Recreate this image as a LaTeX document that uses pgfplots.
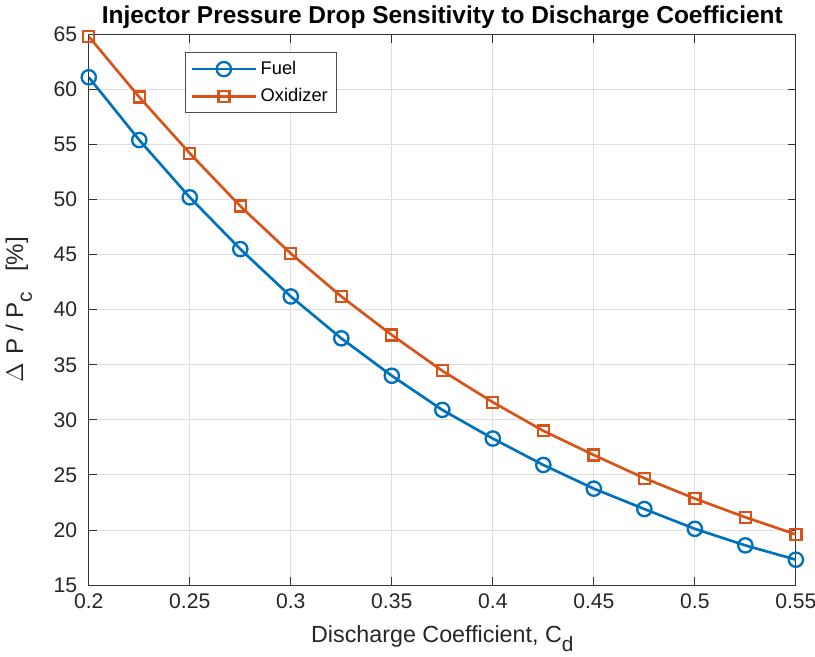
\documentclass[border=0pt]{standalone}
\usepackage{pgfplots}
\pgfplotsset{compat=1.18}
\usetikzlibrary{calc}
\usepackage{fontspec}
\setmainfont{Liberation Sans}
\definecolor{mblue}{rgb}{0,0.447,0.741}
\definecolor{morange}{rgb}{0.85,0.325,0.098}
\begin{document}
\begin{tikzpicture}
\begin{axis}[
  scale only axis,
  width=425pt, height=331pt,
  xmin=0.2, xmax=0.55, ymin=15, ymax=65,
  xtick={0.2,0.25,0.3,0.35,0.4,0.45,0.5,0.55},
  ytick={15,20,...,65},
  /pgf/number format/assume math mode=true,
  /pgf/number format/fixed,
  /pgf/number format/precision=2,
  tick align=inside,
  major tick length=5pt,
  tick style={color=black!80, line width=0.5pt},
  axis line style={color=black!80, line width=0.6pt},
  grid=major,
  grid style={color=black!13, line width=0.5pt},
  ticklabel style={font=\fontsize{12.7}{15}\selectfont, color=black!85},
  label style={font=\fontsize{14}{16}\selectfont, color=black!85},
  xlabel={Discharge Coefficient, C\raisebox{-0.7ex}{\fontsize{12.5}{14}\selectfont d}},
  ylabel={$\Delta$\,\,P / P\raisebox{-0.7ex}{\fontsize{12.5}{14}\selectfont c}\ \ \ [\%]},
  ylabel style={yshift=6pt, font=\fontsize{14.5}{16}\selectfont},
  xlabel style={yshift=-3pt},
  yticklabel style={xshift=-3.5pt},
  title={\bfseries Injector Pressure Drop Sensitivity to Discharge Coefficient},
  title style={font=\fontsize{14.7}{16}\selectfont, yshift=-6pt},
  xticklabel style={yshift=-2pt},
  legend style={at={(0.136,0.967)}, anchor=north west, draw=black!70, line width=0.5pt,
    font=\fontsize{11}{13}\selectfont, row sep=3pt, inner xsep=3pt, inner ysep=3pt},
  legend cell align=left,
  legend image code/.code={%
    \draw[mark repeat=2, mark phase=2] plot coordinates {(0cm,0cm) (0.68cm,0cm) (1.36cm,0cm)};},
]
\addplot[color=mblue, line width=1.6pt, mark=o, mark size=4.3pt, mark options={line width=1.4pt}] coordinates {
(0.2,61.1) (0.225,55.4) (0.25,50.2) (0.275,45.5) (0.3,41.2) (0.325,37.4) (0.35,34.0)
(0.375,30.9) (0.4,28.3) (0.425,25.9) (0.45,23.75) (0.475,21.9) (0.5,20.1) (0.525,18.6) (0.55,17.3)
};
\addlegendentry{Fuel}
\addplot[color=morange, line width=1.6pt, mark=square, mark size=3.3pt, mark options={line width=1.4pt}] coordinates {
(0.2,64.8) (0.225,59.3) (0.25,54.2) (0.275,49.4) (0.3,45.1) (0.325,41.2) (0.35,37.7)
(0.375,34.45) (0.4,31.6) (0.425,29.0) (0.45,26.8) (0.475,24.7) (0.5,22.85) (0.525,21.15) (0.55,19.6)
};
\addlegendentry{Oxidizer}
\end{axis}
\pgfresetboundingbox
\path (current axis.outer south west) rectangle ($(current axis.south east |- current axis.outer north)+(11.5pt,0)$);
\end{tikzpicture}
\end{document}
